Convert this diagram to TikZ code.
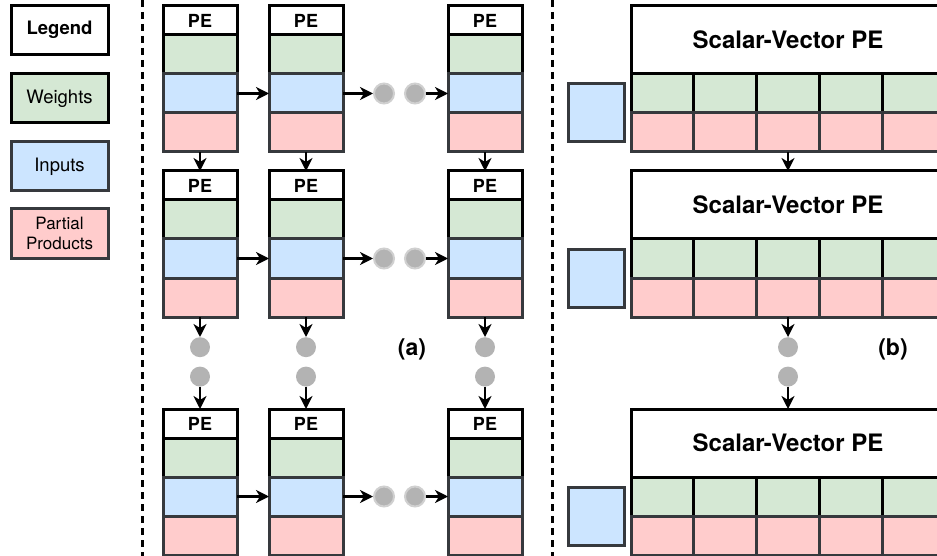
\documentclass[tikz,border=0pt]{standalone}
\usepackage{fontspec}
\setmainfont{TeX Gyre Heros}
\usepackage{tikz}
\usetikzlibrary{arrows.meta}
\usetikzlibrary{positioning}
\definecolor{wgreen}{HTML}{D5E8D4}
\definecolor{inblue}{HTML}{CCE5FF}
\definecolor{ppred}{HTML}{FFCCCC}
\definecolor{edgegray}{HTML}{36393D}
\definecolor{dotgray}{HTML}{B3B3B3}
\definecolor{dotring}{HTML}{D0D0D0}
\tikzset{
  pecell/.style={draw, line width=3pt, outer sep=0pt, inner sep=0pt, minimum width=74pt, minimum height=39pt},
  pehead/.style={pecell, draw=black, fill=white, minimum height=29pt, font=\bfseries\fontsize{18}{20}\selectfont},
  wcell/.style={pecell, draw=black, fill=wgreen},
  incell/.style={pecell, draw=edgegray, fill=inblue},
  ppcell/.style={pecell, draw=edgegray, fill=ppred},
  legbox/.style={draw, line width=3pt, minimum width=97pt, minimum height=49pt, inner sep=0pt, align=center, font=\fontsize{18.5}{20}\selectfont},
  svhead/.style={pecell, draw=black, fill=white, minimum width=314pt, minimum height=68pt, font=\bfseries\fontsize{24}{26}\selectfont},
  hdot/.style={circle, fill=dotgray, draw=dotring, line width=2pt, minimum size=20pt, inner sep=0pt},
  vdot/.style={circle, fill=dotgray, minimum size=20pt, inner sep=0pt},
  flow/.style={black, line width=2.5pt, -{Stealth[length=13pt, width=13pt, inset=4pt]}},
  sepline/.style={black, line width=3pt, dash pattern=on 7pt off 5pt},
}

\begin{document}
\begin{tikzpicture}[x=1pt, y=-1pt]
\useasboundingbox (0,0) rectangle (937,556);
\clip (0,0) rectangle (937,556);

% legend
\node[legbox, draw=black, fill=white, font=\bfseries\fontsize{18.5}{20}\selectfont] (leg-title) at (59.5,30) {Legend};
\node[legbox, draw=black, fill=wgreen] (leg-w) at (59.5,98.5) {Weights};
\node[legbox, draw=edgegray, fill=inblue] (leg-in) at (59.5,166.5) {Inputs};
\node[legbox, draw=edgegray, fill=ppred, font=\fontsize{17}{20}\selectfont] (leg-pp) at (59.5,233.5) {Partial\\Products};

\draw[sepline] (142,0) -- (142,556);
\draw[sepline] (552,0) -- (552,556);

% (a) PE array
\foreach \r/\ty in {1/6, 2/171, 3/409} {
  \foreach \c/\lx in {1/163, 2/269, 3/448} {
    \node[pehead, anchor=north west] (pe-\r-\c) at (\lx,\ty) {PE};
    \node[wcell, below=0pt of pe-\r-\c] (w-\r-\c) {};
    \node[incell, below=0pt of w-\r-\c] (in-\r-\c) {};
    \node[ppcell, below=0pt of in-\r-\c] (pp-\r-\c) {};
  }
  \node[hdot, right=30pt of in-\r-2] (hd-\r-a) {};
  \node[hdot, right=9pt of hd-\r-a] (hd-\r-b) {};
  \draw[flow] (in-\r-1) -- (in-\r-2);
  \draw[flow] (in-\r-2) -- (hd-\r-a);
  \draw[flow] (hd-\r-b) -- (in-\r-3);
}
\foreach \c in {1,2,3} {
  \draw[flow] (pp-1-\c) -- (pe-2-\c);
  \node[vdot, below=20pt of pp-2-\c] (vd-\c-a) {};
  \node[vdot, below=9pt of vd-\c-a] (vd-\c-b) {};
  \draw[flow] (pp-2-\c) -- (vd-\c-a);
  \draw[flow] (vd-\c-b) -- (pe-3-\c);
}
\node[font=\bfseries\fontsize{23}{25}\selectfont] (lab-a) at (412,349) {(a)};

% (b) scalar-vector PEs
\foreach \r/\ty in {1/6, 2/171, 3/409} {
  \node[svhead, anchor=north west] (sv-\r) at (631,\ty) {Scalar-Vector PE};
  \foreach \k [evaluate=\k as \gx using 631+(\k-1)*62.8] in {1,...,5} {
    \node[wcell, minimum width=62.8pt, anchor=north west] (g-\r-\k) at (\gx,\ty+68) {};
    \node[ppcell, minimum width=62.8pt, below=0pt of g-\r-\k] (pr-\r-\k) {};
  }
  \node[incell, minimum width=56pt, minimum height=58pt, left=7pt of g-\r-1.south west] (sq-\r) {};
}
\draw[flow] (pr-1-3) -- (sv-2);
\node[vdot, below=20pt of pr-2-3] (sd-a) {};
\node[vdot, below=9pt of sd-a] (sd-b) {};
\draw[flow] (pr-2-3) -- (sd-a);
\draw[flow] (sd-b) -- (sv-3);
\node[font=\bfseries\fontsize{23}{25}\selectfont] (lab-b) at (893,349) {(b)};
\end{tikzpicture}
\end{document}
